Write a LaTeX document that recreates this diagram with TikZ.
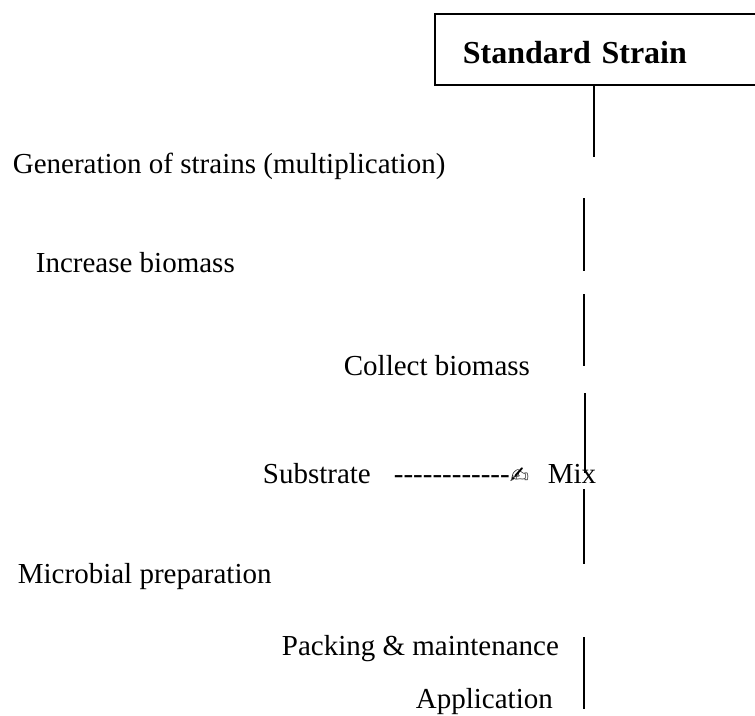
\documentclass[tikz,border=0pt]{standalone}
\usepackage{fontspec}
\setmainfont{Liberation Serif}
\newfontfamily\handfont{DejaVu Sans}

\begin{document}
\begin{tikzpicture}[x=1pt,y=-1pt,
  every path/.style={line width=1.8pt}]
  \tikzstyle{stage} = [anchor=base west,inner sep=0pt,font=\fontsize{29}{34}\selectfont]
  \tikzstyle{head} = [draw,anchor=north west,inner sep=0pt,inner xsep=28pt,
    text height=50pt,text depth=21pt,text width=300pt,font=\fontsize{32}{38}\selectfont\bfseries]
  \useasboundingbox (0,0) rectangle (755,715);
  \node (strain) [head] at (434,13) {Standard Strain};
  \node (gen) [stage] at (12,173) {Generation of strains (multiplication)};
  \node (inc) [stage] at (35,272) {Increase biomass};
  \node (col) [stage] at (343,375) {Collect biomass};
  \node (sub) [stage] at (262,483) {Substrate};
  \node (dash) [stage] at (393,483) {\foreach \i in {1,...,12}{-\kern0pt}{\handfont\fontsize{23}{26}\selectfont ✍}};
  \node (mix) [stage] at (547,483) {Mix};
  \node (mic) [stage] at (17,583) {Microbial preparation};
  \node (pack) [stage] at (281,655) {Packing \& maintenance};
  \node (app) [stage] at (415,708) {Application};
  \coordinate (1_1) at (594,157);
  \coordinate (2_0) at (584,198);
  \coordinate (2_1) at (584,271);
  \coordinate (3_0) at (584,294);
  \coordinate (3_1) at (584,366);
  \coordinate (4_0) at (585,393);
  \coordinate (4_1) at (585,473);
  \coordinate (5_0) at (584,489);
  \coordinate (5_1) at (584,564);
  \coordinate (6_0) at (584,637);
  \coordinate (6_1) at (584,709);
  \draw (strain.south -| 1_1) -- (1_1);
  \draw (2_0) -- (2_1);
  \draw (3_0) -- (3_1);
  \draw (4_0) -- (4_1);
  \draw (5_0) -- (5_1);
  \draw (6_0) -- (6_1);
\end{tikzpicture}
\end{document}
